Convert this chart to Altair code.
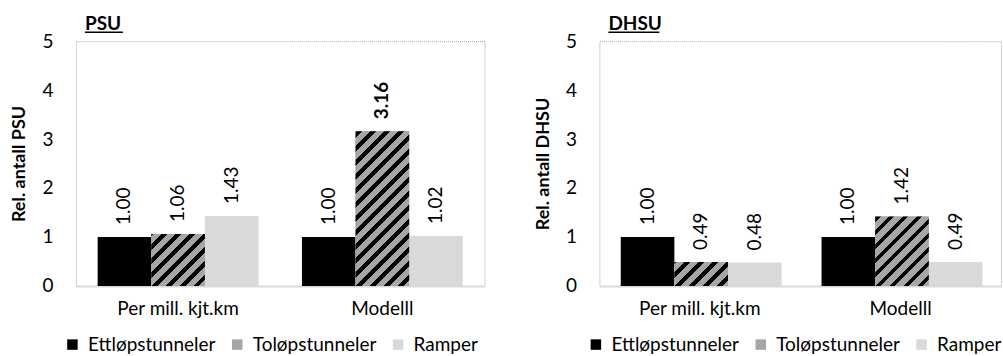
import altair as alt
import pandas as pd

groups = ["Per mill. kjt.km", "Modelll"]
series = ["Ettløpstunneler", "Toløpstunneler", "Ramper"]
colors = ["#000000", "#a6a6a6", "#d9d9d9"]

psu_values = [[1.00, 1.06, 1.43], [1.00, 3.16, 1.02]]
psu_bold = [[False, False, False], [False, True, False]]
dhsu_values = [[1.00, 0.49, 0.48], [1.00, 1.42, 0.49]]
dhsu_bold = [[False, False, False], [False, False, False]]

y_ticks = [0, 1, 2, 3, 4, 5]

FONT = "Lato"
FS = 19
W, H = 409, 245
PAD_IN = 0.2127
HATCH = "Toløpstunneler"


def frame(values, bold):
    rows = []
    for gi, g in enumerate(groups):
        for si, s in enumerate(series):
            rows.append({"group": g, "series": s, "value": values[gi][si],
                         "bold": bold[gi][si]})
    return pd.DataFrame(rows)


def stripes(value):
    # diagonal hatch built from a linear gradient (object bounding box units)
    step = W / 2.0
    w = step * (1 - PAD_IN) / 3.0
    h = value * H / 5.0
    period = 14.0
    black = 0.42
    total = w + h
    a = w * total / (w * w + h * h)
    b = h * total / (w * w + h * h)
    stops = []
    gray, blk = "#a6a6a6", "#000000"
    start = (h % period) - period
    while start < total:
        s0 = max(start, 0.0) / total
        s1 = min(max(start + black * period, 0.0), total) / total
        s2 = min(start + period, total) / total
        stops.append({"offset": s0, "color": blk})
        stops.append({"offset": s1, "color": blk})
        stops.append({"offset": s1, "color": gray})
        stops.append({"offset": s2, "color": gray})
        start += period
    return {"gradient": "linear", "x1": 0, "y1": 0, "x2": a, "y2": b,
            "stops": stops}


def panel(values, bold, title, ytitle, title_w):
    df = frame(values, bold)
    x = alt.X("group:N", scale=alt.Scale(domain=groups, paddingInner=PAD_IN,
                                         paddingOuter=PAD_IN / 2),
              axis=alt.Axis(title=None, labelAngle=0, domain=True,
                            domainColor="#d9d9d9", domainWidth=2, ticks=False,
                            labelFont=FONT, labelFontSize=FS,
                            labelColor="#000000", labelPadding=14))
    xo = alt.XOffset("series:N", scale=alt.Scale(domain=series, paddingInner=0,
                                                 paddingOuter=0))
    y = alt.Y("value:Q", scale=alt.Scale(domain=[0, 5], nice=False),
              axis=alt.Axis(title=ytitle, values=y_ticks, grid=False,
                            domain=False, ticks=False, labelFont=FONT,
                            labelFontSize=FS, labelColor="#000000",
                            labelPadding=23, titleFont=FONT,
                            titleFontSize=18, titleFontWeight="bold",
                            titleColor="#000000", titlePadding=13))
    base = alt.Chart(df)
    bars = base.mark_bar().encode(
        x=x, xOffset=xo, y=y,
        color=alt.Color("series:N",
                        scale=alt.Scale(domain=series, range=colors),
                        legend=alt.Legend(title=None, orient="none",
                                          direction="horizontal",
                                          legendX=-13, legendY=294,
                                          symbolType="square", symbolSize=110,
                                          symbolStrokeWidth=0,
                                          labelFont=FONT, labelFontSize=FS,
                                          labelColor="#000000",
                                          labelOffset=6, columnPadding=12)),
    )
    layers = [bars]
    for gi, g in enumerate(groups):
        si = series.index(HATCH)
        v = values[gi][si]
        hatch = base.transform_filter(
            (alt.datum.group == g) & (alt.datum.series == HATCH)
        ).mark_bar(fill=stripes(v)).encode(x=x, xOffset=xo, y=y)
        layers.append(hatch)
    lbl = dict(angle=270, align="left", baseline="middle", dx=12,
               font=FONT, fontSize=FS, color="#000000")
    normal = base.transform_filter(alt.datum.bold == False).mark_text(
        **lbl).encode(x=x, xOffset=xo, y=y,
                      text=alt.Text("value:Q", format=".2f"))
    strong = base.transform_filter(alt.datum.bold == True).mark_text(
        fontWeight="bold", **lbl).encode(x=x, xOffset=xo, y=y,
                                         text=alt.Text("value:Q", format=".2f"))
    # underline of the panel title
    underline = alt.Chart(pd.DataFrame({"t": [title]})).mark_rule(
        color="#000000", strokeWidth=1.5).encode(
        x=alt.value(9), x2=alt.value(9 + title_w), y=alt.value(-9))
    layers += [normal, strong, underline]
    return alt.layer(*layers).properties(
        width=W, height=H,
        title=alt.TitleParams(title, anchor="start", frame="group", dx=9,
                              dy=5, font=FONT, fontSize=FS, fontWeight="bold",
                              color="#000000", offset=2),
    )


left = panel(psu_values, psu_bold, "PSU", "Rel. antall PSU", 38)
right = panel(dhsu_values, dhsu_bold, "DHSU", "Rel. antall DHSU", 51).properties(
    width=402)

chart = alt.hconcat(left, right, spacing=115, bounds="flush").resolve_scale(
    color="independent"
).resolve_legend(color="independent").properties(
    padding={"left": 10, "top": 14, "right": 0, "bottom": 0},
    background="white",
).configure_view(stroke="#a6a6a6", strokeDash=[1, 1], strokeWidth=1)

chart.save("out.html", embed_options={"renderer": "svg", "actions": False})
